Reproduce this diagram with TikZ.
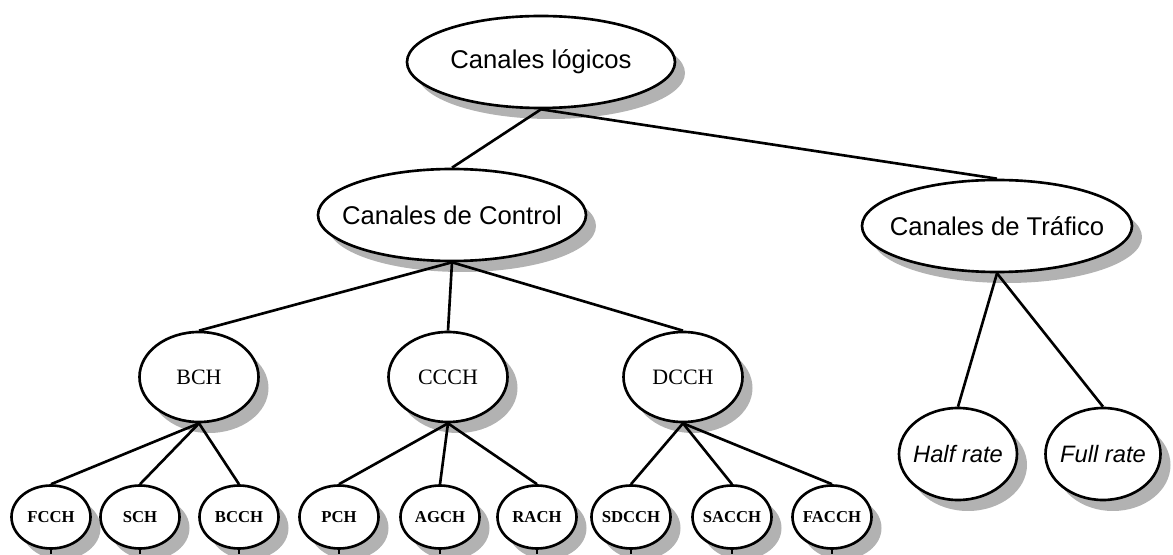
\documentclass[tikz,border=0pt]{standalone}
\usepackage{fontspec}
\setmainfont{Liberation Serif}
\newfontfamily\arialfont{Liberation Sans}
\usetikzlibrary{positioning, shapes.geometric, shadows}

\tikzset{
  canal/.style={ellipse, draw, line width=1.5pt, fill=white, inner sep=-1cm,
    drop shadow={shadow xshift=0.2cm, shadow yshift=-0.22cm, fill=gray!60, opacity=1}},
  grande/.style={canal, minimum width=5.36cm, minimum height=1.84cm,
    font=\arialfont\fontsize{14.6}{17}\selectfont},
  medio/.style={canal, minimum width=2.38cm, minimum height=1.8cm,
    font=\fontsize{12.5}{14}\selectfont},
  chico/.style={canal, minimum width=1.58cm, minimum height=1.26cm,
    font=\bfseries\fontsize{9.5}{11}\selectfont},
  tasa/.style={canal, minimum width=2.36cm, minimum height=1.84cm,
    font=\arialfont\itshape\fontsize{13.5}{16}\selectfont},
  rama/.style={line width=1.5pt},
}

\begin{document}
\begin{tikzpicture}
        \useasboundingbox (0,0) rectangle (23.46,11.08);
        \coordinate (base) at (0,0);
        % niveles superiores
        \node[grande] (logicos) at (10.82,9.84) {Canales lógicos};
        \node[grande] (control) at (9.04,6.78) {Canales de Control};
        \node[grande, minimum width=5.4cm] (trafico) at (19.94,6.56) {Canales de Tráfico};
        \node[medio] (bch) at (3.98,3.54) {BCH};
        \node[medio] (ccch) at (8.96,3.54) {CCCH};
        \node[medio] (dcch) at (13.66,3.54) {DCCH};
        \node[tasa] (half) at (19.16,2.00) {Half rate};
        \node[tasa, minimum width=2.3cm] (full) at (22.06,2.00) {Full rate};
        % fila inferior
        \foreach \n/\x/\t in {fcch/1.02/FCCH, sch/2.80/SCH, bcch/4.78/BCCH,
            pch/6.78/PCH, agch/8.80/AGCH, rach/10.74/RACH,
            sdcch/12.62/SDCCH, sacch/14.64/SACCH, facch/16.64/FACCH}
            \node[chico] (\n) at (\x,0.74) {\t};
        % ramas
        \foreach \a/\b in {logicos/control, logicos/trafico,
            control/bch, control/ccch, control/dcch,
            bch/fcch, bch/sch, bch/bcch, ccch/pch, ccch/agch, ccch/rach,
            dcch/sdcch, dcch/sacch, dcch/facch, trafico/half, trafico/full}
            \draw[rama] (\a.south) -- (\b.north);
        \foreach \n in {fcch, sch, bcch, pch, agch, rach, sdcch, sacch, facch}
            \draw[rama] (\n.south) -- (\n.south |- base);
\end{tikzpicture}
\end{document}
